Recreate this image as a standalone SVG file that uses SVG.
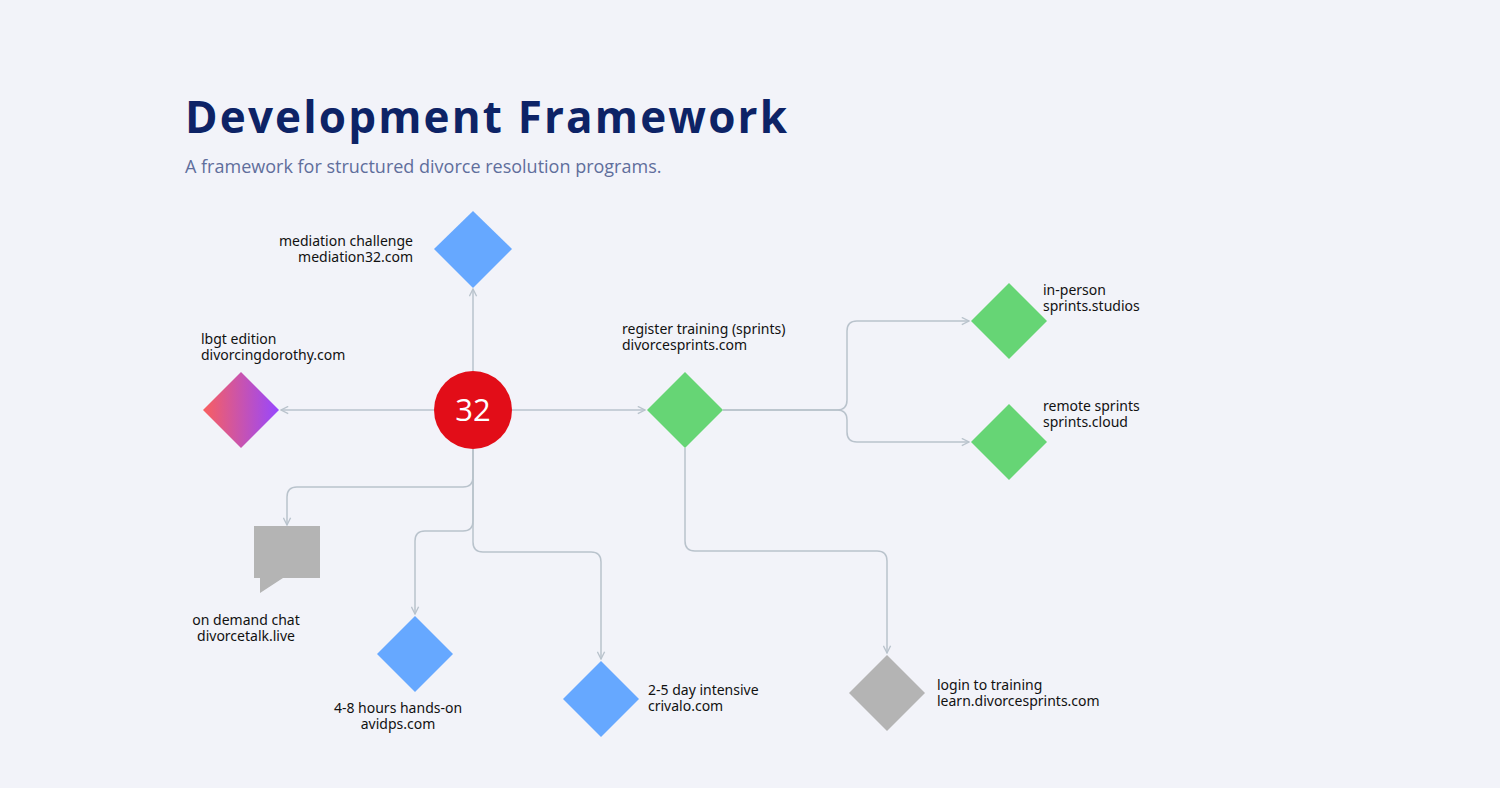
<svg xmlns="http://www.w3.org/2000/svg" width="1500" height="788" viewBox="0 0 1500 788">
<style>
.t{font-family:"Noto Sans",sans-serif;font-size:14px;fill:#111}
.c{fill:none;stroke:#b9c3cc;stroke-width:1.5;marker-end:url(#a)}
.b{fill:#66a8ff}.g{fill:#66d575}.gr{fill:#b4b4b4}
</style>
<defs>
<marker id="a" viewBox="0 0 10 10" refX="9" refY="5" markerWidth="6" markerHeight="6" orient="auto"><path d="M1,1 L9,5 L1,9" fill="none" stroke="#b9c3cc" stroke-width="1.5"/></marker>
<linearGradient id="lg" x1="0" x2="1" y1="0" y2="0"><stop offset="0" stop-color="#f95f5f"/><stop offset="1" stop-color="#9747ff"/></linearGradient>
</defs>
<rect width="1500" height="788" fill="#f2f3f9"/>
<text x="185" y="133" font-family="'Open Sans',sans-serif" font-weight="bold" font-size="44" fill="#0d2366" textLength="602" lengthAdjust="spacing">Development Framework</text>
<text x="185" y="173" font-family="'Open Sans',sans-serif" font-size="18" fill="#5f6e9c">A framework for structured divorce resolution programs.</text>
<g id="connectors">
<path class="c" d="M473,371 V289"/>
<path class="c" d="M434,410 H281"/>
<path class="c" d="M512,410 H645"/>
<path class="c" d="M723,410 H837 Q847,410 847,400 V331 Q847,321 857,321 H969"/>
<path class="c" d="M723,410 H837 Q847,410 847,420 V432 Q847,442 857,442 H969"/>
<path class="c" d="M685,448 V541 Q685,551 695,551 H877 Q887,551 887,561 V653"/>
<path class="c" d="M473,449 V477 Q473,487 463,487 H297 Q287,487 287,497 V525"/>
<path class="c" d="M473,449 V521 Q473,531 463,531 H425 Q415,531 415,541 V614"/>
<path class="c" d="M473,449 V542 Q473,552 483,552 H591 Q601,552 601,562 V659"/>
</g>
<g id="center"><circle cx="473" cy="410" r="39" fill="#e20d18"/><text x="473" y="421" text-anchor="middle" font-family="'Open Sans',sans-serif" font-size="31" fill="#fff">32</text></g>
<g id="mediation"><path class="b" d="M473,211 L512,249 L473,288 L434,249Z"/><text class="t" text-anchor="end"><tspan x="413" y="246">mediation challenge</tspan><tspan x="413" y="262">mediation32.com</tspan></text></g>
<g id="lgbt"><path fill="url(#lg)" d="M241,372 L279,410 L241,448 L203,410Z"/><text class="t"><tspan x="201" y="344">lbgt edition</tspan><tspan x="201" y="360">divorcingdorothy.com</tspan></text></g>
<g id="register"><path class="g" d="M685,372 L723,410 L685,448 L647,410Z"/><text class="t"><tspan x="622" y="334">register training (sprints)</tspan><tspan x="622" y="350">divorcesprints.com</tspan></text></g>
<g id="inperson"><path class="g" d="M1009,283 L1047,321 L1009,359 L971,321Z"/><text class="t"><tspan x="1043" y="295">in-person</tspan><tspan x="1043" y="311">sprints.studios</tspan></text></g>
<g id="remote"><path class="g" d="M1009,404 L1047,442 L1009,480 L971,442Z"/><text class="t"><tspan x="1043" y="411">remote sprints</tspan><tspan x="1043" y="427">sprints.cloud</tspan></text></g>
<g id="login"><path class="gr" d="M887,655 L925,693 L887,731 L849,693Z"/><text class="t"><tspan x="937" y="690">login to training</tspan><tspan x="937" y="706">learn.divorcesprints.com</tspan></text></g>
<g id="chat"><path class="gr" d="M254,526 H320 V578 H283 L260,593 V578 H254Z"/><text class="t" text-anchor="middle"><tspan x="246" y="625">on demand chat</tspan><tspan x="246" y="641">divorcetalk.live</tspan></text></g>
<g id="hours"><path class="b" d="M415,616 L453,654 L415,692 L377,654Z"/><text class="t" text-anchor="middle"><tspan x="398" y="713">4-8 hours hands-on</tspan><tspan x="398" y="729">avidps.com</tspan></text></g>
<g id="intensive"><path class="b" d="M601,661 L639,699 L601,737 L563,699Z"/><text class="t"><tspan x="648" y="695">2-5 day intensive</tspan><tspan x="648" y="711">crivalo.com</tspan></text></g>
</svg>
